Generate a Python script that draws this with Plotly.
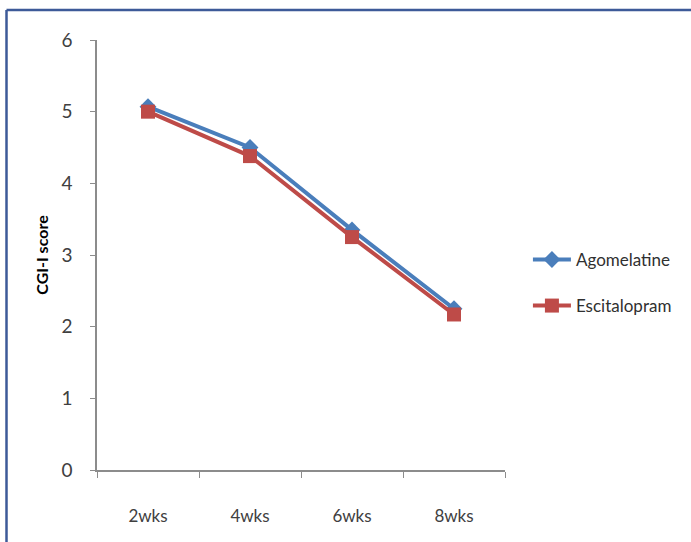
import plotly.graph_objects as go

# CGI-I scores by treatment week
weeks = ["2wks", "4wks", "6wks", "8wks"]
agomelatine = [5.07, 4.50, 3.35, 2.25]
escitalopram = [5.00, 4.38, 3.25, 2.17]
y_ticks = [0, 1, 2, 3, 4, 5, 6]

FONT = "Lato, 'Open Sans', sans-serif"
AXIS_GREY = "#8c8c8c"

fig = go.Figure()
fig.add_trace(go.Scatter(
    x=weeks, y=agomelatine, name="Agomelatine", mode="lines+markers",
    legendgroup="ago",
    line=dict(color="#4a7ebb", width=4),
    marker=dict(symbol="diamond", size=13, color="#4a7ebb"),
))
fig.add_trace(go.Scatter(
    x=weeks, y=escitalopram, name="Escitalopram", mode="lines+markers",
    legendgroup="esc",
    line=dict(color="#be4b48", width=4),
    marker=dict(symbol="square", size=14, color="#be4b48"),
))

fig.update_layout(
    width=691, height=542,
    margin=dict(l=97, r=186, t=40, b=72, autoexpand=False),
    paper_bgcolor="white", plot_bgcolor="white",
    font=dict(family=FONT, color="#404040", size=16),
    showlegend=True,
    legend=dict(
        xref="container", yref="container",
        x=0.764, y=0.478, xanchor="left", yanchor="middle",
        font=dict(size=17, color="#303030"),
        tracegroupgap=21, itemwidth=38, traceorder="grouped",
        bgcolor="rgba(0,0,0,0)",
    ),
    xaxis=dict(
        range=[-0.5, 3.5], showline=True, linecolor=AXIS_GREY, linewidth=1.5,
        ticks="outside", ticklen=6, tickcolor=AXIS_GREY, tickson="boundaries",
        ticklabelstandoff=30, showgrid=False, zeroline=False,
        tickfont=dict(size=17, color="#404040"),
    ),
    yaxis=dict(
        range=[0, 6], tickvals=y_ticks, showline=True, linecolor=AXIS_GREY,
        linewidth=1.5, ticks="outside", ticklen=5, tickcolor=AXIS_GREY,
        ticklabelstandoff=14, showgrid=False, zeroline=False,
        tickfont=dict(size=19, color="#404040"),
        title=dict(text="<b>CGI-I score</b>", standoff=9,
                   font=dict(size=16, color="#000000")),
    ),
)

# Blue frame around the chart (top and left edges visible)
frame_x = (6.5 - 97) / 408
frame_y = (470 - 10) / 430
fig.add_shape(type="line", xref="paper", yref="paper",
              x0=frame_x, x1=1.6, y0=frame_y, y1=frame_y,
              line=dict(color="#3d5a98", width=2.5))
fig.add_shape(type="line", xref="paper", yref="paper",
              x0=frame_x, x1=frame_x, y0=frame_y, y1=-0.3,
              line=dict(color="#3d5a98", width=2.5))

fig.write_html("out.html")
